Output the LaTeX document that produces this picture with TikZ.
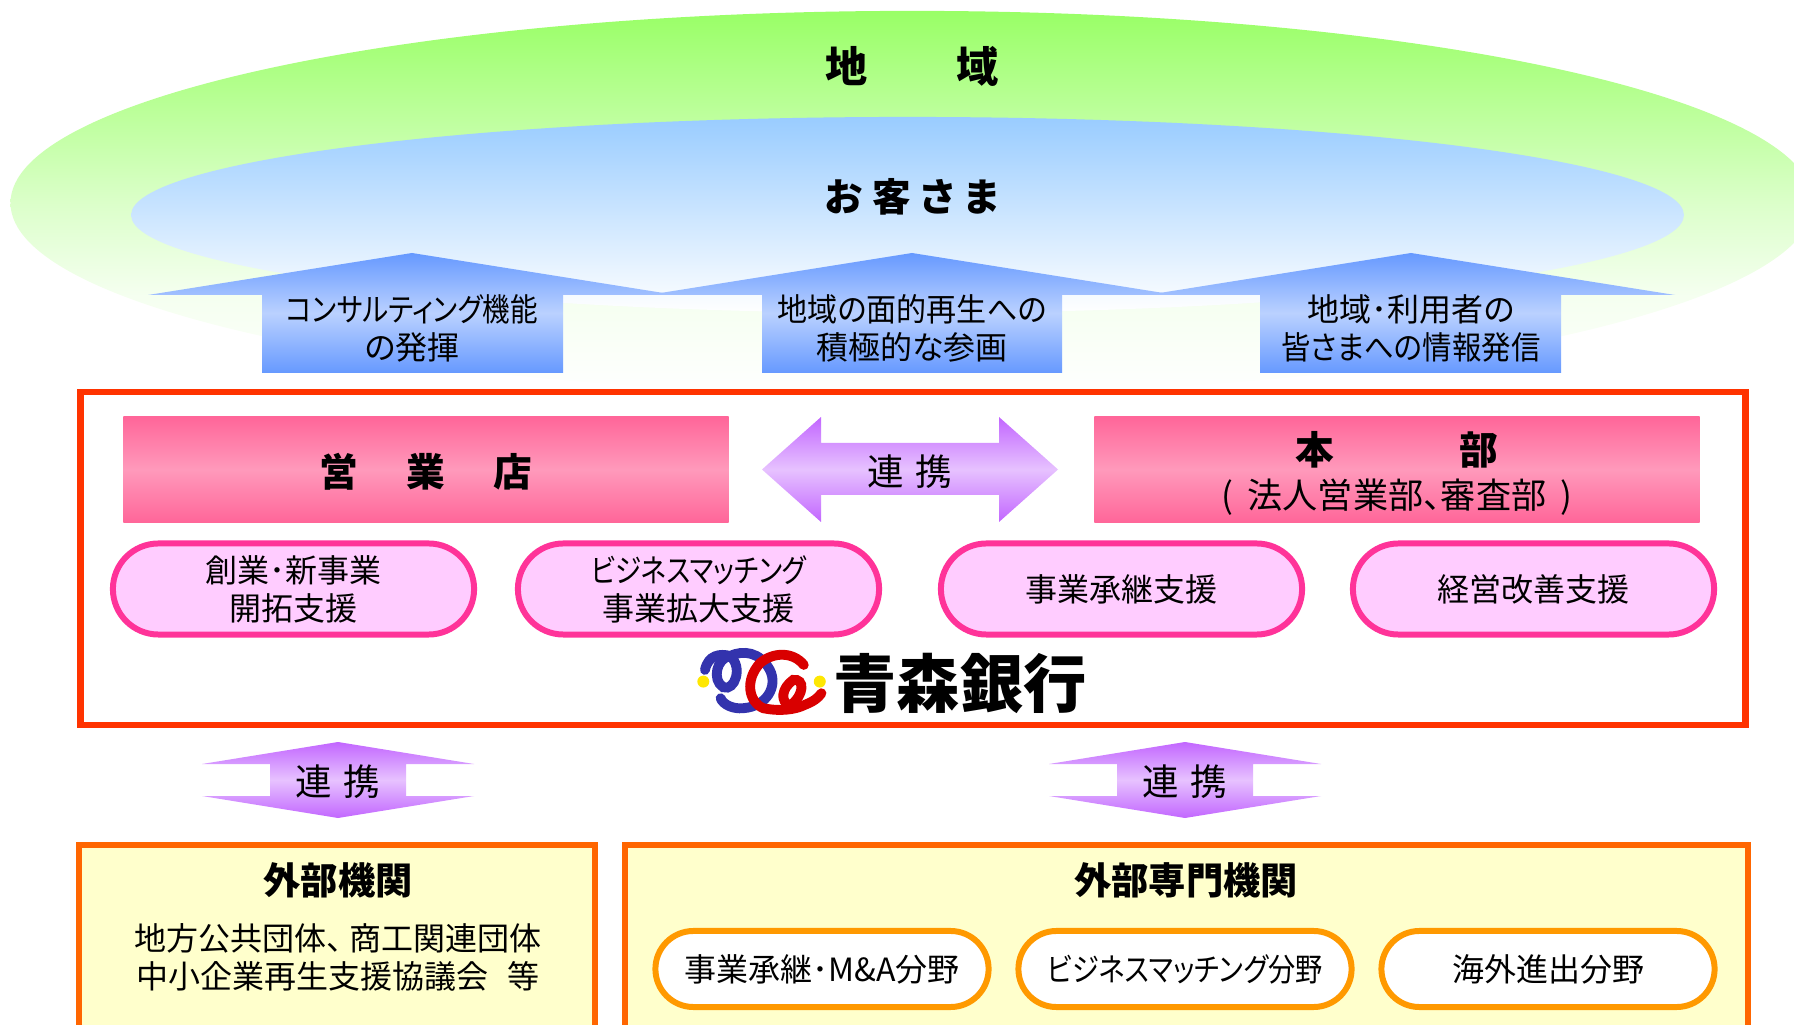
\documentclass[tikz,border=0pt]{standalone}
\usepackage{graphicx}
\usepackage{fontspec}
\setmainfont{Noto Sans CJK JP}[RawFeature=+palt]
\usetikzlibrary{shapes.geometric, shapes.misc}
\definecolor{areagreen}{RGB}{153, 255, 102}
\definecolor{custblue}{RGB}{153, 204, 255}
\definecolor{arrowblue}{RGB}{102, 153, 255}
\definecolor{arrowpurple}{RGB}{194, 102, 255}
\definecolor{bankred}{RGB}{255, 51, 0}
\definecolor{boxorange}{RGB}{255, 102, 0}
\definecolor{pillorange}{RGB}{255, 153, 0}
\definecolor{pillpink}{RGB}{255, 51, 153}
\definecolor{pillfill}{RGB}{255, 204, 255}
\definecolor{boxyellow}{RGB}{255, 255, 204}
\definecolor{barpink}{RGB}{255, 102, 153}
\definecolor{barlight}{RGB}{255, 153, 187}
\pgfdeclareverticalshading{areafade}{100bp}{color(0bp)=(white); color(25bp)=(white); color(38bp)=(areagreen!10!white); color(50bp)=(areagreen!35!white); color(75bp)=(areagreen); color(100bp)=(areagreen)}
\newcommand{\narrowtext}[2]{\scalebox{#1}[1]{#2}}
\tikzstyle{textlarge} = [font=\fontsize{11}{13}\selectfont\bfseries, align=center]
\tikzstyle{textmid} = [font=\fontsize{10.6}{12.5}\selectfont\bfseries, align=center]
\tikzstyle{textnormal} = [font=\fontsize{9.1}{10.8}\selectfont, align=center]
\tikzstyle{upblue} = [top color=arrowblue, bottom color=arrowblue, middle color=arrowblue!45!white]
\tikzstyle{purple} = [top color=arrowpurple, bottom color=arrowpurple, middle color=arrowpurple!40!white]
\tikzstyle{bar} = [rectangle, minimum width=6.05cm, minimum height=1.06cm,
                   top color=barpink, bottom color=barpink, middle color=barlight]
\tikzstyle{pill} = [rounded rectangle, minimum width=3.61cm, minimum height=0.91cm,
                    inner sep=0pt, draw=pillpink, fill=pillfill, line width=1.7pt,
                    font=\fontsize{9.1}{10.8}\selectfont, align=center]
\tikzstyle{pillwhite} = [rounded rectangle, minimum width=3.33cm, minimum height=0.76cm,
                         inner sep=0pt, draw=pillorange, fill=white, line width=1.7pt,
                         font=\fontsize{9.1}{10.8}\selectfont, align=center]
\tikzstyle{outbox} = [rectangle, inner sep=0pt, draw=boxorange, fill=boxyellow, line width=1.7pt]

\begin{document}
\begin{tikzpicture}[x=0.01cm, y=-0.01cm]
        \useasboundingbox (0,0) rectangle (1794,1025);

        \node (Area) [ellipse, inner sep=0pt, minimum width=18.02cm, minimum height=3.84cm,
                      shading=areafade] at (912,203) {};
        \node (Customer) [ellipse, inner sep=0pt, minimum width=15.52cm, minimum height=1.96cm,
                      top color=custblue, bottom color=white] at (907.5,215) {};
        \node (AreaText) [font=\fontsize{12}{14}\selectfont\bfseries] at (912,66) {地\hspace{2.1em}域};
        \node (CustomerText) [textlarge] at (912,197) {お\hspace{0.25em}客\hspace{0.25em}さ\hspace{0.25em}ま};

        \path [upblue] (148,295) -- (412,253) -- (676,295) -- (563,295) -- (563,373) -- (262,373) -- (262,295) -- cycle;
        \path [upblue] (648,295) -- (912,253) -- (1176,295) -- (1062,295) -- (1062,373) -- (762,373) -- (762,295) -- cycle;
        \path [upblue] (1147,295) -- (1411,253) -- (1675,295) -- (1561,295) -- (1561,373) -- (1260,373) -- (1260,295) -- cycle;
        \node (Role1) [textnormal] at (412,328) {\narrowtext{0.86}{コンサルティング機能}\\の発揮};
        \node (Role2) [textnormal] at (912,328) {\narrowtext{0.94}{地域の面的再生への}\\積極的な参画};
        \node (Role3) [textnormal] at (1411,328) {地域･利用者の\\\narrowtext{0.92}{皆さまへの情報発信}};

        \node (Bank) [rectangle, minimum width=16.64cm, minimum height=3.33cm, draw=bankred, line width=1.8pt] at (913,558.5) {};
        \node (Branch) [bar] at (426,469.5) {};
        \node (BranchText) [textlarge] at (426,472) {営\hspace{1.25em}業\hspace{1.25em}店};
        \node (Head) [bar] at (1397,469.5) {};
        \node (HeadText) [textlarge] at (1397,450) {本\hspace{3.25em}部};
        \node (HeadSub) [font=\fontsize{10}{11}\selectfont] at (1397,497) {(\hspace{0.4em}法人営業部、審査部\hspace{0.4em})};
        \path [purple] (762,469.5) -- (821,417) -- (821,443) -- (999,443) -- (999,417) -- (1058,469.5) -- (999,522) -- (999,495) -- (821,495) -- (821,522) -- cycle;
        \node (LinkMid) [font=\fontsize{10.4}{12}\selectfont] at (910,472) {連\hspace{0.3em}携};

        \node (Pill1) [pill] at (293.5,589) {創業･新事業\\開拓支援};
        \node (Pill2) [pill] at (698.5,589) {\narrowtext{0.83}{ビジネスマッチング}\\事業拡大支援};
        \node (Pill3) [pill] at (1121.5,589) {事業承継支援};
        \node (Pill4) [pill] at (1533.5,589) {経営改善支援};

        \begin{scope}[shift={(680,630)}, x=0.00333cm, y=-0.00333cm, line width=2.8pt, line cap=round]
            \draw [color=blue!60!black!80!white] (75,120) .. controls (85,75) and (120,70) .. (150,78) .. controls (190,60) and (240,65) .. (270,120) .. controls (295,170) and (260,230) .. (190,235) .. controls (160,238) and (130,225) .. (122,205);
            \draw [color=blue!60!black!80!white] (150,78) .. controls (110,85) and (95,150) .. (130,172) .. controls (165,185) and (190,110) .. (150,78);
            \draw [color=red!85!black] (372,105) .. controls (340,65) and (280,65) .. (240,100) .. controls (195,150) and (205,215) .. (250,235) .. controls (300,245) and (345,240) .. (375,225) .. controls (400,215) and (415,205) .. (425,190);
            \draw [color=red!85!black] (330,228) .. controls (300,215) and (305,175) .. (340,150) .. controls (375,145) and (375,195) .. (330,228);
            \fill [color=yellow!90!orange] (70,155) circle [radius=18];
            \fill [color=yellow!90!orange] (420,155) circle [radius=18];
        \end{scope}
        \node (BankName) [font=\fontsize{18}{20}\selectfont\bfseries, inner sep=0pt] at (960,683) {青森銀行};

        \path [purple] (338,742) -- (474,764) -- (406,764) -- (406,796) -- (474,796) -- (338,818) -- (202,796) -- (270,796) -- (270,764) -- (202,764) -- cycle;
        \path [purple] (1185,742) -- (1321,764) -- (1253,764) -- (1253,796) -- (1321,796) -- (1185,818) -- (1049,796) -- (1117,796) -- (1117,764) -- (1049,764) -- cycle;
        \node (LinkLeft) [font=\fontsize{10.4}{12}\selectfont] at (338,782) {連\hspace{0.3em}携};
        \node (LinkRight) [font=\fontsize{10.4}{12}\selectfont] at (1185,782) {連\hspace{0.3em}携};

        \node (Outer) [outbox, minimum width=5.16cm, minimum height=3.1cm] at (337,1000) {};
        \node (Expert) [outbox, minimum width=11.22cm, minimum height=3.1cm] at (1186.5,1000) {};
        \node (OuterTitle) [textmid] at (338,880) {外部機関};
        \node (ExpertTitle) [textmid] at (1186,880) {外部専門機関};
        \node (OuterText) [textnormal] at (338,957) {地方公共団体、\hspace{0.2em}商工関連団体\\中小企業再生支援協議会\hspace{0.6em}等};

        \node (Field1) [pillwhite] at (822,969) {事業承継･M\&A分野};
        \node (Field2) [pillwhite] at (1185,969) {\narrowtext{0.85}{ビジネスマッチング分野}};
        \node (Field3) [pillwhite] at (1548,969) {海外進出分野};
\end{tikzpicture}
\end{document}
